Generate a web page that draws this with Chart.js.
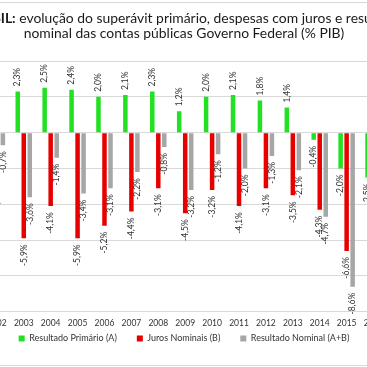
<!DOCTYPE html>
<html>
<head>
<meta charset="utf-8">
<script src="https://cdn.jsdelivr.net/npm/chart.js@4.4.1/dist/chart.umd.min.js"></script>
<style>
  html, body { margin: 0; padding: 0; background: #fff; }
  #frame { position: relative; width: 367px; height: 367px; overflow: hidden; }
  #frame:before, #frame:after { content: ''; position: absolute; left: 0; right: 0; height: 1px; background: #d9d9d9; }
  #frame:before { top: 2px; }
  #frame:after { bottom: 1px; }
  #title { position: absolute; left: -116px; width: 600px; top: 10px; text-align: center;
           font-family: Lato, 'Open Sans', sans-serif; font-size: 13.9px; line-height: 15px; color: #1a1a1a; white-space: nowrap; }
  #box { position: absolute; left: -19px; top: 0; width: 427px; height: 367px; }
</style>
</head>
<body>
<div id="frame">
  <div id="box"><canvas id="c"></canvas></div>
  <div id="title"><b>BRASIL:</b> evolução do superávit primário, despesas com juros e resultado<br>nominal das contas públicas Governo Federal (% PIB)</div>
</div>
<script>
const years = ['2002', '2003', '2004', '2005', '2006', '2007', '2008', '2009', '2010', '2011', '2012', '2013', '2014', '2015', '2016'];
const primario = [2.2, 2.3, 2.5, 2.4, 2.0, 2.1, 2.3, 1.2, 2.0, 2.1, 1.8, 1.4, -0.4, -2.0, -2.5];
const juros = [-2.9, -5.9, -4.1, -5.9, -5.2, -4.4, -3.1, -4.5, -3.2, -4.1, -3.1, -3.5, -4.3, -6.6, -5.7];
const nominal = [-0.7, -3.6, -1.4, -3.4, -3.1, -2.2, -0.8, -3.2, -1.2, -2.0, -1.3, -2.1, -4.7, -8.6, -8.2];

const fontFam = 'Lato, "Open Sans", sans-serif';

function fmt(v) {
    return v.toFixed(1).replace('.', ',') + '%';
}

const valueLabels = {
    id: 'valueLabels',
    afterDatasetsDraw(chart) {
        const {ctx} = chart;
        ctx.save();
        ctx.font = '8.5px ' + fontFam;
        ctx.fillStyle = '#333';
        ctx.textBaseline = 'middle';
        chart.data.datasets.forEach((ds, i) => {
            const meta = chart.getDatasetMeta(i);
            meta.data.forEach((bar, j) => {
                const v = ds.data[j];
                ctx.save();
                ctx.translate(bar.x, v >= 0 ? bar.y - 5 : bar.y + 6);
                ctx.rotate(-Math.PI / 2);
                ctx.textAlign = v >= 0 ? 'left' : 'right';
                ctx.fillText(fmt(v), 0, 0);
                ctx.restore();
            });
        });
        ctx.restore();
    }
};

// legend: keep the wide gap between items but not the tall box
const legendSqueeze = {
    id: 'legendSqueeze',
    beforeInit(chart) {
        const legend = chart.legend;
        const fit = legend.fit;
        legend.fit = function () {
            fit.call(this);
            this.height = 18;
        };
        const draw = legend.draw;
        legend.draw = function () {
            this.top -= 20;
            draw.call(this);
            this.top += 20;
        };
    }
};

new Chart(document.getElementById('c'), {
    type: 'bar',
    data: {
        labels: years,
        datasets: [
            {label: 'Resultado Primário (A)', data: primario, backgroundColor: '#22e022'},
            {label: 'Juros Nominais (B)', data: juros, backgroundColor: '#e80000'},
            {label: 'Resultado Nominal (A+B)', data: nominal, backgroundColor: '#a6a6a6'}
        ]
    },
    plugins: [valueLabels, legendSqueeze],
    options: {
        responsive: true,
        maintainAspectRatio: false,
        animation: false,
        datasets: {bar: {categoryPercentage: 0.67, barPercentage: 0.75}},
        layout: {padding: {top: 61, left: 0, right: 21, bottom: 15}},
        scales: {
            x: {
                grid: {display: false, drawTicks: false},
                border: {display: false},
                ticks: {font: {family: fontFam, size: 8.5}, color: '#333', padding: 6, maxRotation: 0, autoSkip: false}
            },
            y: {
                min: -10,
                max: 4,
                ticks: {display: false, stepSize: 2},
                border: {display: false},
                grid: {color: '#d9d9d9', drawTicks: false}
            }
        },
        plugins: {
            legend: {
                position: 'bottom',
                labels: {boxWidth: 6, boxHeight: 6, padding: 20, color: '#333', font: {family: fontFam, size: 9}}
            },
            tooltip: {enabled: false}
        }
    }
});
</script>
</body>
</html>
